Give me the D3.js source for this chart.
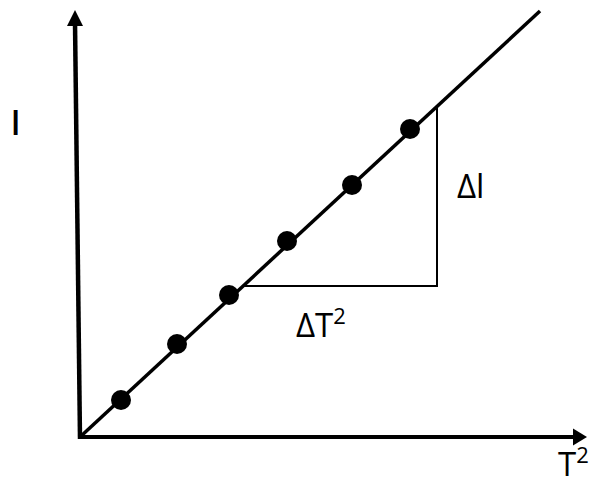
<!DOCTYPE html>
<html>
<head>
<meta charset="utf-8">
<script src="https://cdn.jsdelivr.net/npm/d3@7"></script>
<style>
  html, body { margin: 0; padding: 0; background: #fff; }
  svg { display: block; }
  text { font-family: "Open Sans", "DejaVu Sans", sans-serif; fill: #000; }
</style>
</head>
<body>
<svg id="chart" width="591" height="487"></svg>
<script>
// Measured points: period squared (T²) vs pendulum length (l), arbitrary units
const periodSq = [0.82, 1.94, 2.98, 4.14, 5.44, 6.60];
const lengths  = [0.74, 1.86, 2.84, 3.92, 5.04, 6.16];

// Best-fit line through the origin
const slope = 0.926;
const lineEndX = 9.2;

// Slope triangle: horizontal leg at this height, vertical leg at this T²
const triY = 3.02;
const triX = 7.14;

// Axis extents
const xMax = 10.14;
const yMax = 8.54;

const svg = d3.select("#chart");

const x = d3.scaleLinear().domain([0, 10]).range([80, 580]);
const y = d3.scaleLinear().domain([0, 8.5]).range([437, 12]);

// Axes (with arrowheads)
const axisG = svg.append("g");
axisG.append("line")
  .attr("x1", x(0)).attr("y1", y(0))
  .attr("x2", x(xMax) - 12).attr("y2", y(0))
  .attr("stroke", "#000").attr("stroke-width", 4);
axisG.append("path")
  .attr("d", `M${x(xMax)},${y(0)} L${x(xMax) - 14},${y(0) - 8.5} L${x(xMax) - 14},${y(0) + 8.5} Z`)
  .attr("fill", "#000");

// vertical axis leans very slightly to the left as it rises
const yTopX = x(-0.1);
axisG.append("line")
  .attr("x1", x(0)).attr("y1", y(0) + 2)
  .attr("x2", yTopX).attr("y2", y(yMax) + 12)
  .attr("stroke", "#000").attr("stroke-width", 4.5);
axisG.append("path")
  .attr("d", `M${yTopX},${y(yMax)} L${yTopX - 8},${y(yMax) + 16} L${yTopX + 8},${y(yMax) + 16} Z`)
  .attr("fill", "#000");

// Slope triangle
const triStartX = triY / slope;
svg.append("path")
  .attr("d", `M${x(triStartX)},${y(triY)} L${x(triX)},${y(triY)} L${x(triX)},${y(slope * triX)}`)
  .attr("fill", "none").attr("stroke", "#000").attr("stroke-width", 2);

// Fit line
svg.append("line")
  .attr("x1", x(0)).attr("y1", y(0))
  .attr("x2", x(lineEndX)).attr("y2", y(slope * lineEndX))
  .attr("stroke", "#000").attr("stroke-width", 3.5)
  .attr("stroke-linecap", "butt");

// Data points
svg.append("g").selectAll("circle")
  .data(periodSq.map((t, i) => ({ t, l: lengths[i] })))
  .join("circle")
  .attr("cx", d => x(d.t))
  .attr("cy", d => y(d.l))
  .attr("r", 10)
  .attr("fill", "#000");

// Labels
const fs = 33;
function label(px, py, main, sup) {
  const t = svg.append("text").attr("x", px).attr("y", py).style("font-size", fs + "px");
  t.append("tspan").text(main);
  if (sup) {
    t.append("tspan").text(sup).attr("dy", -13).style("font-size", "22px");
  }
  return t;
}

label(11, 135, "l").style("font-weight", 600);
label(457, 198, "Δl");
label(296, 337, "ΔT", "2");
label(558, 476, "T", "2");
</script>
</body>
</html>
